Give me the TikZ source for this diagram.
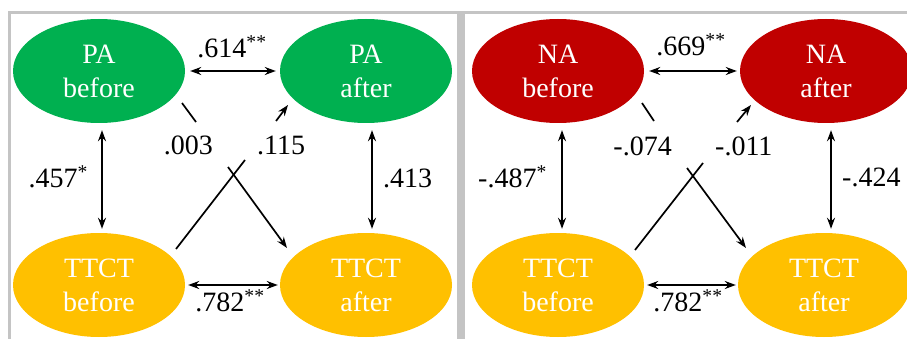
\documentclass[tikz,border=0pt]{standalone}
\usepackage{fontspec}
\setmainfont{Liberation Serif}
\usetikzlibrary{shapes.geometric,arrows.meta}
\definecolor{pagreen}{RGB}{0,176,80}
\definecolor{nared}{RGB}{192,0,0}
\definecolor{ttyellow}{RGB}{255,192,0}
\definecolor{framegray}{RGB}{196,196,196}
\tikzset{
  var/.style={ellipse, minimum width=172pt, minimum height=104pt, inner sep=0pt,
    text=white, align=center, font=\fontsize{28}{34}\selectfont},
  pa/.style={var, fill=pagreen},
  na/.style={var, fill=nared},
  tt/.style={var, fill=ttyellow},
  coef/.style={font=\fontsize{28}{32}\selectfont, inner sep=0pt},
  link/.style={line width=1.7pt, black},
  arr/.style={link, -{Stealth[length=11pt,width=8pt]}},
  darr/.style={link, {Stealth[length=11pt,width=8pt]}-{Stealth[length=11pt,width=8pt]}},
}
\begin{document}
\begin{tikzpicture}[x=1pt,y=-1pt]
\useasboundingbox (0,0) rectangle (907,339);
\clip (0,0) rectangle (907,339);
\fill[white] (0,0) rectangle (907,339);
% frame
\fill[framegray] (8,11) rectangle (907,14);
\fill[framegray] (8,11) rectangle (11,339);
\fill[framegray] (457,11) rectangle (465,339);

% ---------- left panel ----------
\node[pa] (PAb) at (99,71) {PA\\before};
\node[pa] (PAa) at (366,71) {PA\\after};
\node[tt] (TTb1) at (99,285) {TTCT\\before};
\node[tt] (TTa1) at (366,285) {TTCT\\after};

\draw[darr, shorten <=5pt, shorten >=4pt] (PAb.east) -- (PAa.west);
\draw[darr, shorten <=3pt, shorten >=2pt] (TTb1.east) -- (TTa1.west);
\draw[darr, shorten <=7pt, shorten >=4pt] ([xshift=3pt]PAb.south) -- ([xshift=3pt]TTb1.north);
\draw[darr, shorten <=7pt, shorten >=4pt] ([xshift=6pt]PAa.south) -- ([xshift=6pt]TTa1.north);

\coordinate (a1) at (182,103); \coordinate (a2) at (196,122);
\coordinate (a3) at (228,167); \coordinate (a4) at (287,248);
\draw[link] (a1) -- (a2);
\draw[arr] (a3) -- (a4);
\coordinate (b1) at (176,249); \coordinate (b2) at (245,160);
\coordinate (b3) at (276,121); \coordinate (b4) at (288,105);
\draw[link] (b1) -- (b2);
\draw[arr] (b3) -- (b4);

\node[coef] (l1) at (232,47) {.614\textsuperscript{**}};
\node[coef] (l2) at (230,301) {.782\textsuperscript{**}};
\node[coef, anchor=east] (l3) at (88,177) {.457\textsuperscript{*}};
\node[coef, anchor=west] (l4) at (383,178) {.413};
\node[coef, anchor=east] (l5) at (213,145) {.003};
\node[coef, anchor=west] (l6) at (257,145) {.115};

% ---------- right panel ----------
\begin{scope}[xshift=459pt]
\node[na] (NAb) at (99,71) {NA\\before};
\node[na] (NAa) at (367,71) {NA\\after};
\node[tt] (TTb2) at (99,285) {TTCT\\before};
\node[tt] (TTa2) at (365,285) {TTCT\\after};

\draw[darr, shorten <=5pt, shorten >=3pt] (NAb.east) -- (NAa.west);
\draw[darr, shorten <=3pt, shorten >=2pt] (TTb2.east) -- (TTa2.west);
\draw[darr, shorten <=7pt, shorten >=4pt] ([xshift=4pt]NAb.south) -- ([xshift=4pt]TTb2.north);
\draw[darr, shorten <=7pt, shorten >=4pt] ([xshift=5pt]NAa.south) -- ([xshift=7pt]TTa2.north);

\coordinate (c1) at (183,103); \coordinate (c2) at (195,121);
\coordinate (c3) at (228,168); \coordinate (c4) at (287,248);
\draw[link] (c1) -- (c2);
\draw[arr] (c3) -- (c4);
\coordinate (d1) at (176,250); \coordinate (d2) at (244,163);
\coordinate (d3) at (278,122); \coordinate (d4) at (292,105);
\draw[link] (d1) -- (d2);
\draw[arr] (d3) -- (d4);

\node[coef] (r1) at (232,45) {.669\textsuperscript{**}};
\node[coef] (r2) at (229,301) {.782\textsuperscript{**}};
\node[coef, anchor=east] (r3) at (88,177) {-.487\textsuperscript{*}};
\node[coef, anchor=west] (r4) at (383,177) {-.424};
\node[coef, anchor=east] (r5) at (213,146) {-.074};
\node[coef, anchor=west] (r6) at (256,146) {-.011};
\end{scope}
\end{tikzpicture}
\end{document}
